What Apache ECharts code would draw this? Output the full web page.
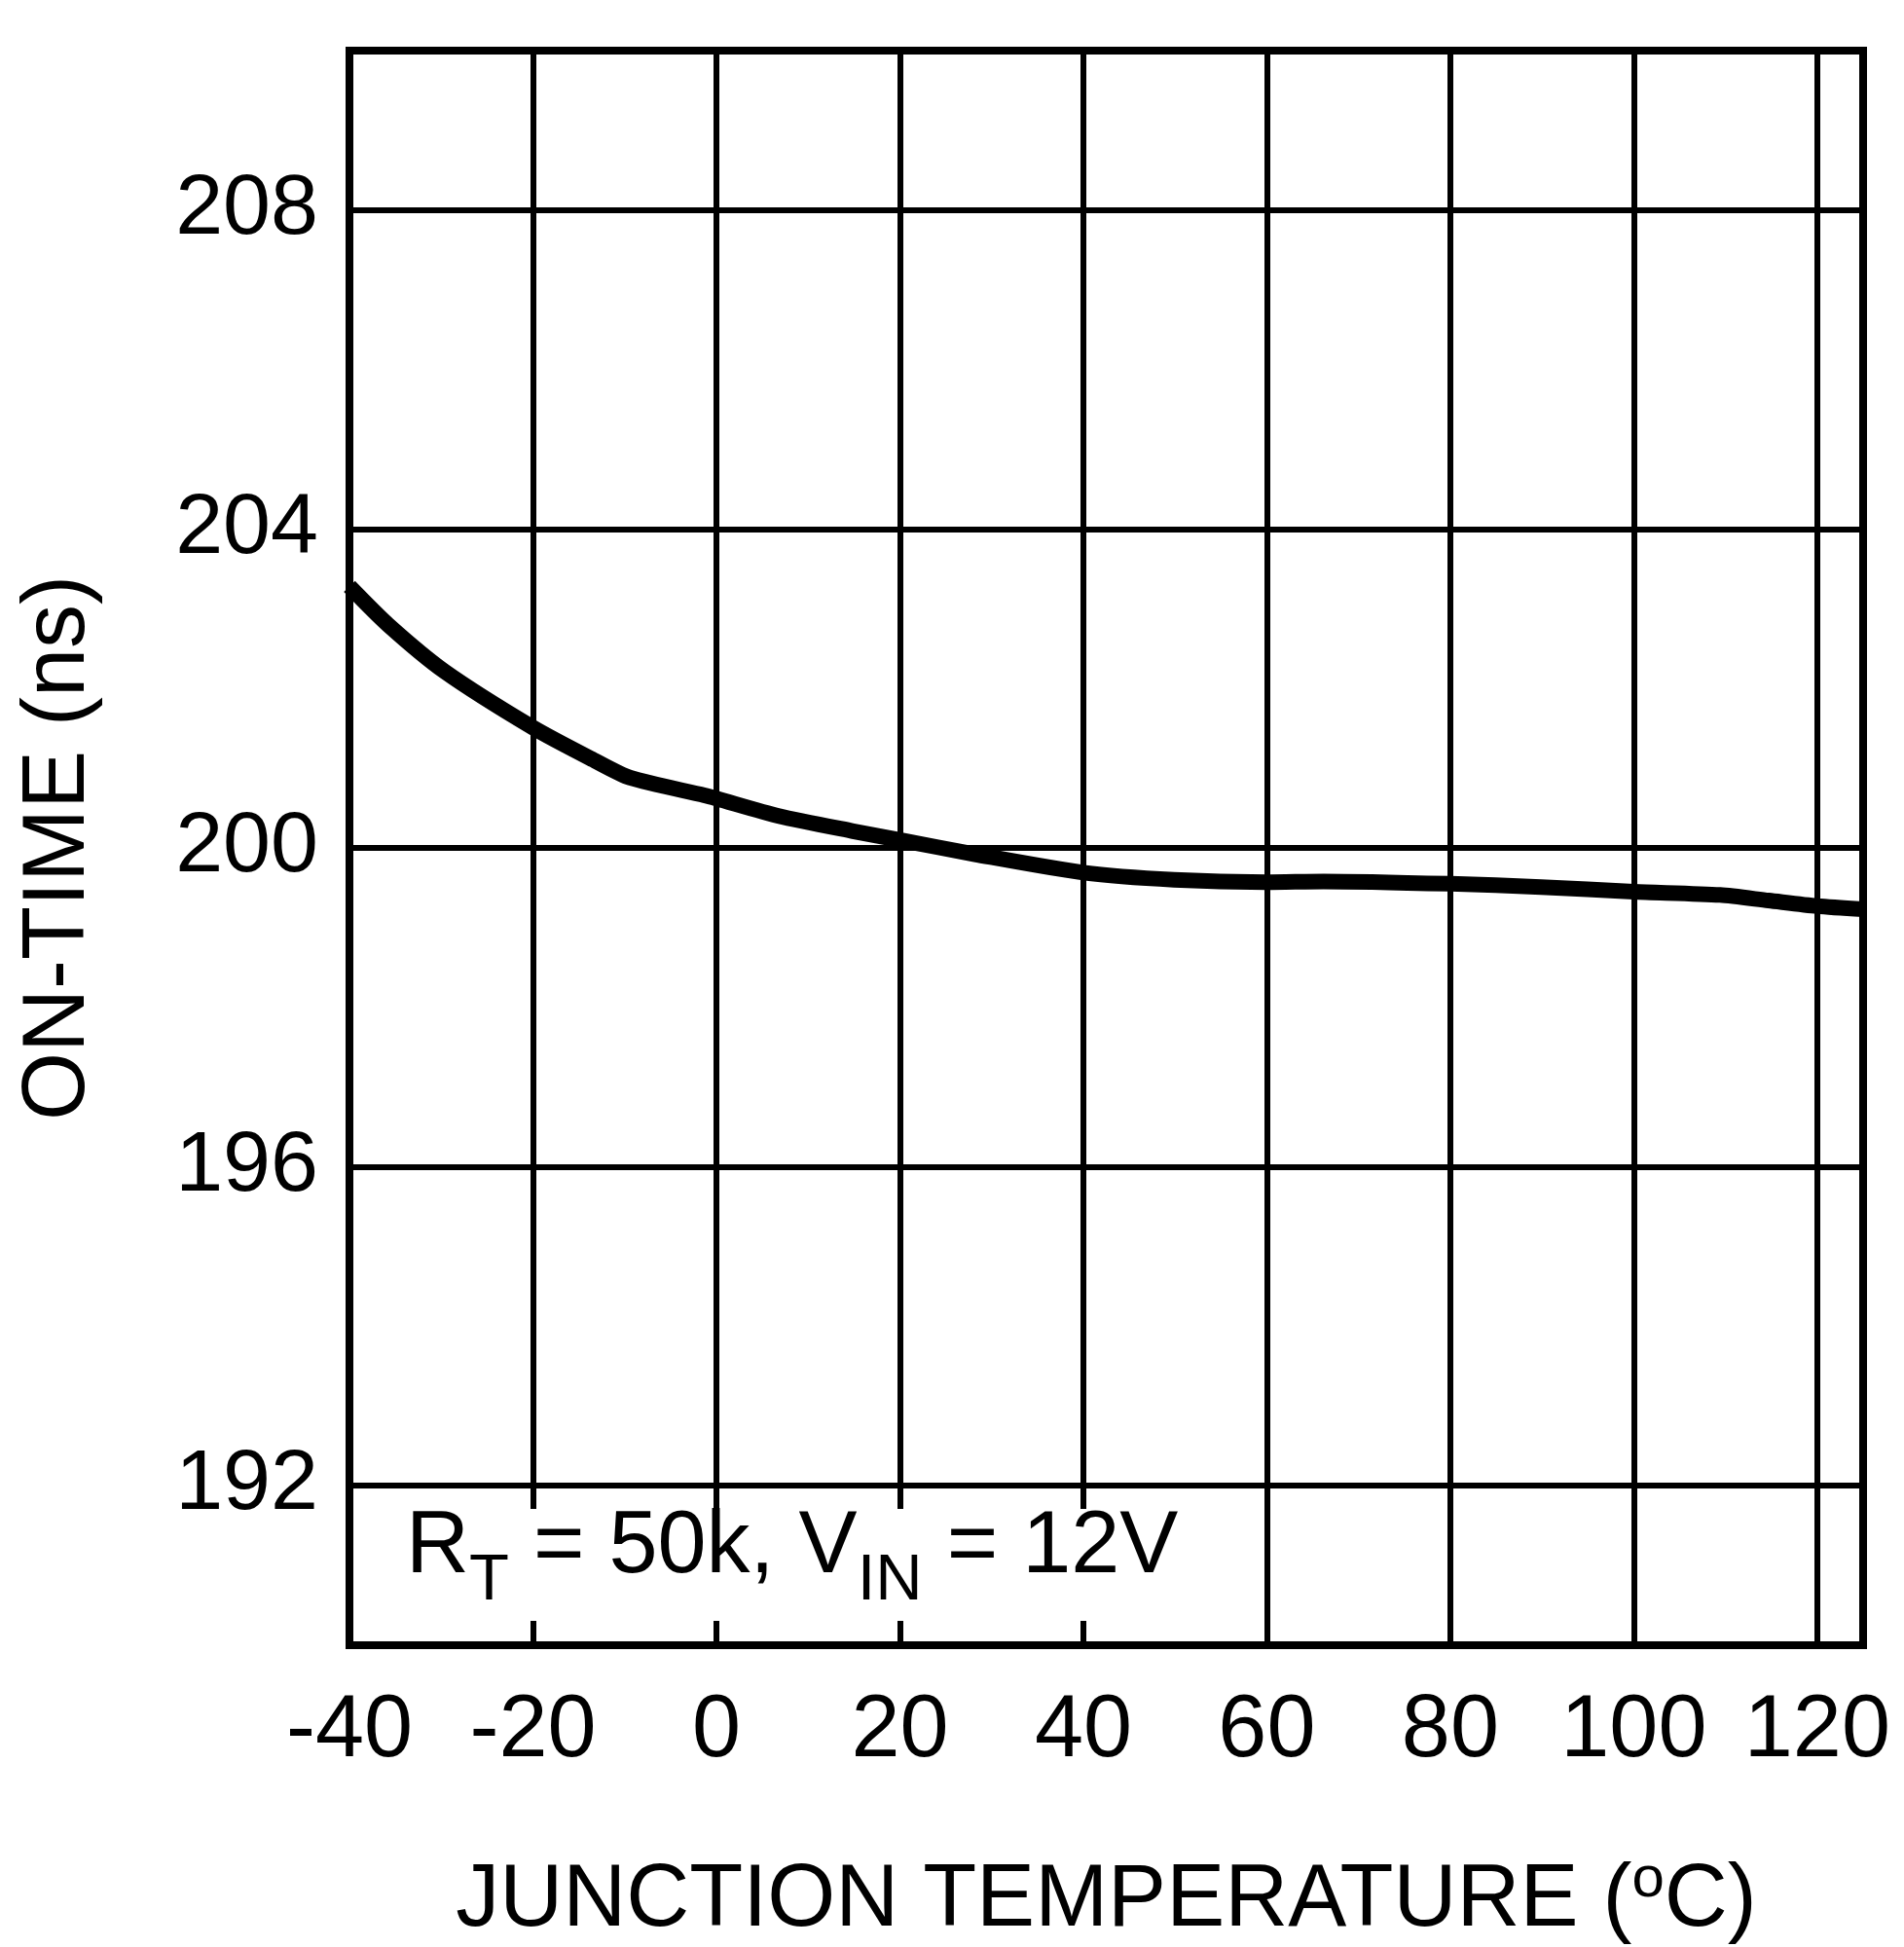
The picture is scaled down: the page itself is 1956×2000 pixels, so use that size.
<!DOCTYPE html>
<html>
<head>
<meta charset="utf-8">
<script src="https://cdn.jsdelivr.net/npm/echarts@6/dist/echarts.min.js"></script>
<style>
html, body { margin: 0; padding: 0; background: #fff; }
#chart { width: 1956px; height: 2000px; }
</style>
</head>
<body>
<div id="chart"></div>
<script>
// Junction temperature (°C)
var temps = [-40, -35.8, -29.7, -20, -13.5, -9.4, -1.3, 0, 6.8, 14.9, 20, 28.2, 40, 49.9, 60, 66.2, 80, 89.9, 100, 109.4, 114.7, 120, 125];
// On-time (ns)
var onTime = [203.28, 202.80, 202.22, 201.51, 201.11, 200.88, 200.66, 200.62, 200.40, 200.21, 200.10, 199.92, 199.69, 199.60, 199.57, 199.58, 199.55, 199.51, 199.45, 199.41, 199.34, 199.27, 199.23];
// Tick labels
var xTickLabels = [-40, -20, 0, 20, 40, 60, 80, 100, 120];
var yTickLabels = [192, 196, 200, 204, 208];

var FONT = "'Liberation Sans', Arial, Helvetica, sans-serif";
var points = temps.map(function (t, i) { return [t, onTime[i]]; });

var chart = echarts.init(document.getElementById('chart'), null, { renderer: 'canvas' });
chart.setOption({
  backgroundColor: '#ffffff',
  animation: false,
  grid: {
    left: 359, right: 42, top: 52, bottom: 310,
    outerBoundsMode: 'none',
    containLabel: false,
    show: true, borderColor: '#000', borderWidth: 8, backgroundColor: 'transparent'
  },
  xAxis: {
    type: 'value', min: -40, max: 125, interval: 20,
    axisLine: { show: false }, axisTick: { show: false },
    splitLine: { show: true, lineStyle: { color: '#000', width: 6 } },
    axisLabel: {
      margin: 44, fontSize: 90, color: '#000', fontFamily: FONT, showMaxLabel: true,
      formatter: function (v) { return xTickLabels.indexOf(v) >= 0 ? String(v) : ''; }
    },
    name: 'JUNCTION TEMPERATURE ({sup|o}C)',
    nameLocation: 'middle', nameGap: 218,
    nameTextStyle: {
      fontSize: 90, lineHeight: 90, color: '#000', fontFamily: FONT, verticalAlign: 'top',
      rich: { sup: { fontSize: 60, lineHeight: 60, padding: [0, 0, 44, 0], color: '#000', fontFamily: FONT, verticalAlign: 'middle' } }
    }
  },
  yAxis: {
    type: 'value', min: 190, max: 210, interval: 2,
    axisLine: { show: false }, axisTick: { show: false },
    splitLine: { show: true, lineStyle: { color: ['rgba(0,0,0,0)', '#000'], width: 6 } },
    axisLabel: {
      margin: 32, fontSize: 88, color: '#000', fontFamily: FONT,
      formatter: function (v) { return yTickLabels.indexOf(v) >= 0 ? String(v) : ''; }
    },
    name: 'ON-TIME (ns)',
    nameLocation: 'middle', nameGap: 253, nameRotate: 90,
    nameTextStyle: { fontSize: 90, lineHeight: 90, color: '#000', fontFamily: FONT }
  },
  series: [{
    type: 'line',
    data: points,
    showSymbol: false,
    smooth: 0.25,
    lineStyle: { color: '#000', width: 16, cap: 'butt', join: 'round' },
    clip: true,
    z: 5
  }],
  graphic: [
    {
      type: 'rect', z: 100, silent: true,
      shape: { x: 364, y: 1550, width: 880, height: 115 },
      style: { fill: '#fff' }
    },
    {
      type: 'text', z: 101, silent: true,
      x: 417, y: 1545,
      style: {
        text: 'R{sub|T} = 50k, V{sub|IN} = 12V',
        fontSize: 90, lineHeight: 90, fontFamily: FONT, fill: '#000',
        verticalAlign: 'top', align: 'left',
        rich: {
          sub: { fontSize: 67, lineHeight: 67, padding: [70, 0, 0, 0], fontFamily: FONT, fill: '#000', verticalAlign: 'middle' }
        }
      }
    }
  ]
});
</script>
</body>
</html>
